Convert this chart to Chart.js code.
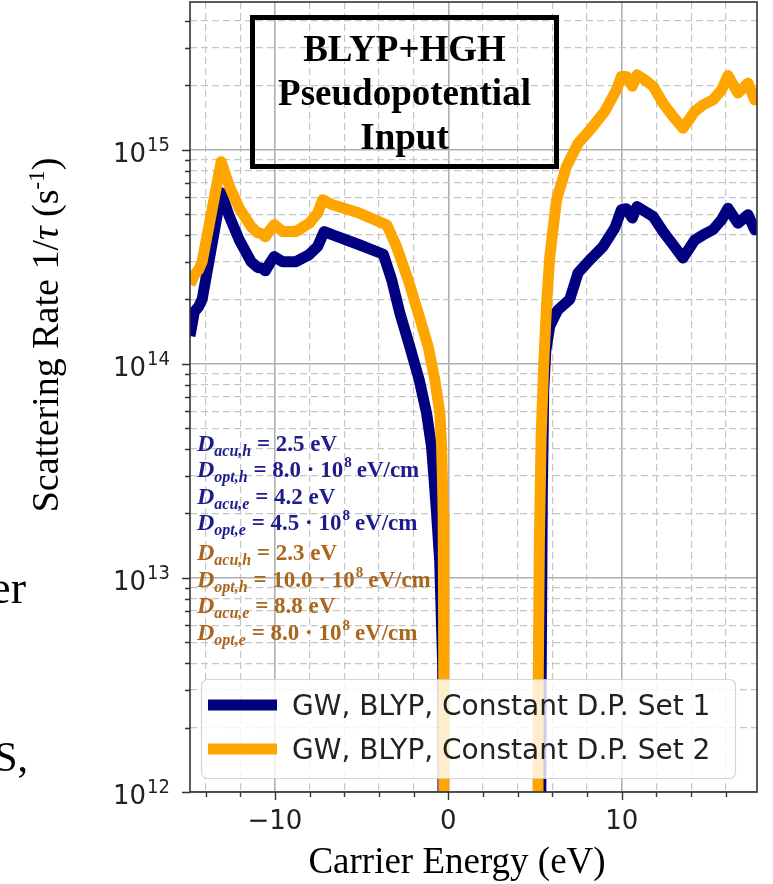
<!DOCTYPE html>
<html lang="en">
<head>
<meta charset="UTF-8">
<title>Scattering rate vs carrier energy</title>
<script src="https://cdn.jsdelivr.net/npm/chart.js"></script>
<style>
  html, body { margin: 0; padding: 0; background: #fff; }
  #wrap { width: 773px; height: 884px; }
</style>
</head>
<body>
<div id="wrap"><canvas id="rateChart" width="773" height="884"></canvas></div>
<script>
// carrier energy (eV) and scattering rate (1/s), deformation potential set 1
const energySet1 = [-14.9, -14.65, -14.4, -14.2, -13.1, -12.63, -12.06, -11.38, -11.0, -10.75, -10.55, -10.3,
  -10.04, -9.56, -8.79, -8.02, -7.54, -7.16, -6.67, -5.14, -3.75, -3.27, -2.8, -2.22, -1.68, -1.26,
  -0.97, -0.82, -0.68, -0.5, -0.33, -0.28, 5.3, 5.35, 5.42, 5.5, 5.62, 5.85, 6.3, 7.0, 7.48, 8.16,
  8.92, 9.6, 9.98, 10.27, 10.61, 10.88, 11.33, 11.81, 12.38, 12.96, 13.53, 14.21, 14.69, 15.26,
  15.75, 16.13, 16.7, 17.28, 17.67, 17.8];
const rateSet1 = [1.35e14, 1.75e14, 1.85e14, 2.0e14, 6.3e14, 4.88e14, 3.79e14, 3.0e14, 2.82e14, 2.8e14, 2.72e14, 2.95e14,
  3.17e14, 3.0e14, 3.0e14, 3.24e14, 3.53e14, 4.15e14, 4.0e14, 3.6e14, 3.25e14, 2.47e14, 1.73e14, 1.2e14, 8.4e13, 5.9e13,
  4.1e13, 2.87e13, 2.0e13, 1.2e13, 4e12, 1e11, 1e11, 3e12, 2.5e13, 7.5e13, 1.15e14, 1.5e14, 1.78e14, 2.0e14, 2.66e14, 3.06e14,
  3.53e14, 4.31e14, 5.25e14, 5.3e14, 4.8e14, 5.43e14, 5.15e14, 4.88e14, 4.15e14, 3.6e14, 3.12e14, 3.79e14, 4.0e14, 4.23e14,
  4.7e14, 5.33e14, 4.54e14, 4.97e14, 4.23e14, 4.4e14];

// deformation potential set 2
const energySet2 = [-14.9, -14.65, -14.4, -14.2, -13.1, -12.63, -12.06, -11.38, -11.0, -10.75, -10.55, -10.3,
  -10.04, -9.56, -8.79, -8.02, -7.54, -7.25, -6.67, -5.14, -3.55, -2.99, -2.32, -1.74, -1.16, -0.78,
  -0.49, -0.39, -0.34, -0.3, -0.27, -0.25, 5.15, 5.18, 5.25, 5.35, 5.5, 5.68, 5.85, 6.24, 6.81, 7.48,
  8.25, 9.02, 9.69, 9.98, 10.27, 10.61, 10.88, 11.33, 11.81, 12.38, 12.96, 13.53, 14.21, 14.69,
  15.26, 15.75, 16.13, 16.7, 17.28, 17.67, 17.8];
const rateSet2 = [2.35e14, 2.6e14, 2.75e14, 3.0e14, 8.8e14, 6.75e14, 5.33e14, 4.38e14, 4.1e14, 4.05e14, 3.92e14, 4.2e14,
  4.47e14, 4.15e14, 4.15e14, 4.54e14, 5.06e14, 5.84e14, 5.53e14, 5.06e14, 4.45e14, 3.53e14, 2.47e14, 1.73e14, 1.2e14, 8.4e13,
  5.9e13, 4.1e13, 2.87e13, 2.0e13, 5e12, 1e11, 1e11, 3e12, 1.5e13, 4.5e13, 1.0e14, 2.0e14, 3.17e14, 5.84e14, 8.35e14, 1.07e15,
  1.26e15, 1.51e15, 1.9e15, 2.2e15, 2.2e15, 1.98e15, 2.24e15, 2.12e15, 1.98e15, 1.65e15, 1.43e15, 1.26e15, 1.51e15, 1.62e15,
  1.71e15, 1.9e15, 2.22e15, 1.84e15, 2.05e15, 1.71e15, 1.78e15];

const seriesLabels = ['GW, BLYP, Constant D.P. Set 1', 'GW, BLYP, Constant D.P. Set 2'];
const seriesColors = ['#000080', '#ffa500'];

const xGridSteps = [-14, -12, -10, -8, -6, -4, -2, 0, 2, 4, 6, 8, 10, 12, 14, 16];
const xTickLabels = [-10, 0, 10];
const yTickExponents = [12, 13, 14, 15];

const boxTitleLines = ['BLYP+HGH', 'Pseudopotential', 'Input'];

// [subscript, value, power of ten or null]
const potentialsSet1 = [['acu,h', '2.5', null], ['opt,h', '8.0', 8], ['acu,e', '4.2', null], ['opt,e', '4.5', 8]];
const potentialsSet2 = [['acu,h', '2.3', null], ['opt,h', '10.0', 8], ['acu,e', '8.8', null], ['opt,e', '8.0', 8]];
const potentialColors = ['#1c1c8c', '#a9661c'];

function isDecade(v) {
  const l = Math.log10(v);
  return Math.abs(l - Math.round(l)) < 1e-9;
}

function yGridValues(max) {
  const out = [];
  for (let n = 12; n <= 15; n++) {
    for (let k = 1; k <= 9; k++) {
      const v = k * Math.pow(10, n);
      if (v <= max) out.push(v);
    }
  }
  return out;
}

function drawText(ctx, str, x, y, font, align, color, sy) {
  ctx.save();
  ctx.translate(x, y);
  ctx.scale(1, sy || 1);
  ctx.font = font;
  ctx.textAlign = align || 'left';
  ctx.textBaseline = 'alphabetic';
  ctx.fillStyle = color || '#222';
  ctx.fillText(str, 0, 0);
  ctx.restore();
}

function drawPotential(ctx, x, y, p, color) {
  const [sub, val, exp] = p;
  ctx.save();
  ctx.translate(x, y);
  ctx.fillStyle = color;
  ctx.textBaseline = 'alphabetic';
  ctx.textAlign = 'left';
  let cx = 0;
  ctx.font = 'italic bold 24px "Liberation Serif"';
  ctx.fillText('D', cx, 0);
  cx += ctx.measureText('D').width;
  ctx.font = 'italic bold 16px "Liberation Serif"';
  ctx.fillText(sub, cx, 5);
  cx += ctx.measureText(sub).width;
  ctx.font = 'bold 23px "Liberation Serif"';
  const head = ' = ' + val + (exp ? ' \u00b7 10' : ' eV');
  ctx.fillText(head, cx, 0);
  cx += ctx.measureText(head).width;
  if (exp) {
    ctx.font = 'bold 15px "Liberation Serif"';
    ctx.fillText(String(exp), cx + 1, -10);
    cx += ctx.measureText(String(exp)).width + 6;
    ctx.font = 'bold 23px "Liberation Serif"';
    ctx.fillText('eV/cm', cx, 0);
  }
  ctx.restore();
}

function roundRectPath(ctx, x, y, w, h, r) {
  ctx.beginPath();
  ctx.moveTo(x + r, y);
  ctx.arcTo(x + w, y, x + w, y + h, r);
  ctx.arcTo(x + w, y + h, x, y + h, r);
  ctx.arcTo(x, y + h, x, y, r);
  ctx.arcTo(x, y, x + w, y, r);
  ctx.closePath();
}

// spines, ticks, labels, text box, parameter notes and legend
const decorations = {
  id: 'decorations',
  afterDatasetsDraw(chart) {
    const { ctx, chartArea: a, scales: { x, y } } = chart;
    ctx.save();

    // spines
    ctx.strokeStyle = '#333';
    ctx.lineWidth = 1.6;
    ctx.strokeRect(a.left, a.top, a.right - a.left, a.bottom - a.top);

    // tick marks
    ctx.lineWidth = 1.4;
    ctx.beginPath();
    xGridSteps.forEach(v => {
      const px = Math.round(x.getPixelForValue(v)) + 0.5;
      const len = v % 10 === 0 ? 8 : 5;
      ctx.moveTo(px, a.bottom);
      ctx.lineTo(px, a.bottom + len);
    });
    yGridValues(y.max).forEach(v => {
      const py = Math.round(y.getPixelForValue(v)) + 0.5;
      const len = isDecade(v) ? 8 : 5;
      ctx.moveTo(a.left - len, py);
      ctx.lineTo(a.left, py);
    });
    ctx.stroke();

    // x tick labels
    xTickLabels.forEach(v => {
      const txt = v < 0 ? '\u2212' + Math.abs(v) : String(v);
      drawText(ctx, txt, x.getPixelForValue(v), 829, '26px "DejaVu Sans"', 'center', '#222', 1.04);
    });

    // y tick labels: 10 with a raised exponent
    yTickExponents.forEach(n => {
      const py = y.getPixelForValue(Math.pow(10, n));
      ctx.font = '18px "DejaVu Sans"';
      const ew = ctx.measureText(String(n)).width;
      const right = a.left - 20;
      drawText(ctx, String(n), right - ew, py + 1, '18px "DejaVu Sans"', 'left', '#222', 1.04);
      drawText(ctx, '10', right - ew - 1, py + 12, '26px "DejaVu Sans"', 'right', '#222', 1.04);
    });

    // x axis title
    drawText(ctx, 'Carrier Energy (eV)', 457, 873, '37px "Liberation Serif"', 'center', '#000');

    // y axis title, rotated
    ctx.save();
    ctx.translate(58, 335);
    ctx.rotate(-Math.PI / 2);
    const runs = [
      ['Scattering Rate 1/', '38px "Liberation Serif"', 0],
      ['\u03c4', 'italic 38px "Liberation Serif"', 0],
      [' (s', '38px "Liberation Serif"', 0],
      ['-1', '23px "Liberation Serif"', -14],
      [')', '38px "Liberation Serif"', 0]
    ];
    let total = 0;
    runs.forEach(r => { ctx.font = r[1]; total += ctx.measureText(r[0]).width; });
    let cx = -total / 2;
    ctx.fillStyle = '#000';
    ctx.textBaseline = 'alphabetic';
    runs.forEach(r => {
      ctx.font = r[1];
      ctx.fillText(r[0], cx, r[2]);
      cx += ctx.measureText(r[0]).width;
    });
    ctx.restore();

    // boxed title
    ctx.strokeStyle = '#000';
    ctx.lineWidth = 5;
    ctx.strokeRect(252.5, 17.5, 304, 149);
    [61, 105, 149].forEach((by, i) => {
      drawText(ctx, boxTitleLines[i], 404.5, by, 'bold 37px "Liberation Serif"', 'center', '#000');
    });

    // deformation potentials
    potentialsSet1.forEach((p, i) => drawPotential(ctx, 197, 451 + i * 26.4, p, potentialColors[0]));
    potentialsSet2.forEach((p, i) => drawPotential(ctx, 197, 560 + i * 26.6, p, potentialColors[1]));

    // legend
    roundRectPath(ctx, 201.5, 679.5, 534, 99, 6);
    ctx.fillStyle = 'rgba(255,255,255,0.8)';
    ctx.fill();
    ctx.strokeStyle = 'rgba(204,204,204,0.8)';
    ctx.lineWidth = 1.2;
    ctx.stroke();
    [705, 749].forEach((ly, i) => {
      ctx.strokeStyle = seriesColors[i];
      ctx.lineWidth = 11;
      ctx.lineCap = 'butt';
      ctx.beginPath();
      ctx.moveTo(208, ly);
      ctx.lineTo(277, ly);
      ctx.stroke();
      drawText(ctx, seriesLabels[i], 292, ly + 10, '28px "DejaVu Sans"', 'left', '#222');
    });

    // fragments of the neighbouring text column
    drawText(ctx, 'er', 26, 603, '46px "Liberation Serif"', 'right', '#000');
    drawText(ctx, 'S,', 28, 771, '42px "Liberation Serif"', 'right', '#000');

    ctx.restore();
  }
};

const toPoints = (xs, ys) => xs.map((v, i) => ({ x: v, y: ys[i] }));

new Chart(document.getElementById('rateChart'), {
  type: 'line',
  data: {
    datasets: [
      {
        label: seriesLabels[0],
        data: toPoints(energySet1, rateSet1),
        borderColor: seriesColors[0],
        borderWidth: 11,
        pointRadius: 0,
        borderJoinStyle: 'round',
        clip: 0,
        order: 1
      },
      {
        label: seriesLabels[1],
        data: toPoints(energySet2, rateSet2),
        borderColor: seriesColors[1],
        borderWidth: 11,
        pointRadius: 0,
        borderJoinStyle: 'round',
        clip: 0,
        order: 0
      }
    ]
  },
  options: {
    responsive: false,
    animation: false,
    devicePixelRatio: 1,
    layout: { padding: { left: 0, right: 16, top: 2, bottom: 0 } },
    plugins: { legend: { display: false }, tooltip: { enabled: false } },
    scales: {
      x: {
        type: 'linear',
        min: -14.9,
        max: 17.8,
        afterBuildTicks: s => { s.ticks = xGridSteps.map(v => ({ value: v })); },
        afterFit: s => { s.height = 92; },
        ticks: { display: false },
        grid: {
          drawTicks: false,
          color: c => (c.tick && c.tick.value % 10 === 0) ? '#b0b0b0' : '#c6c6c6',
          lineWidth: c => (c.tick && c.tick.value % 10 === 0) ? 1.6 : 1.2
        },
        border: {
          display: false,
          dash: c => (c.tick && c.tick.value % 10 !== 0) ? [7, 4] : []
        }
      },
      y: {
        type: 'logarithmic',
        min: 1e12,
        max: 4.9e15,
        afterBuildTicks: s => { s.ticks = yGridValues(4.9e15).map(v => ({ value: v })); },
        afterFit: s => { s.width = 190; },
        ticks: { display: false },
        grid: {
          drawTicks: false,
          color: c => (c.tick && isDecade(c.tick.value)) ? '#b0b0b0' : '#c6c6c6',
          lineWidth: c => (c.tick && isDecade(c.tick.value)) ? 1.6 : 1.2
        },
        border: {
          display: false,
          dash: c => (c.tick && !isDecade(c.tick.value)) ? [7, 4] : []
        }
      }
    }
  },
  plugins: [decorations]
});
</script>
</body>
</html>
